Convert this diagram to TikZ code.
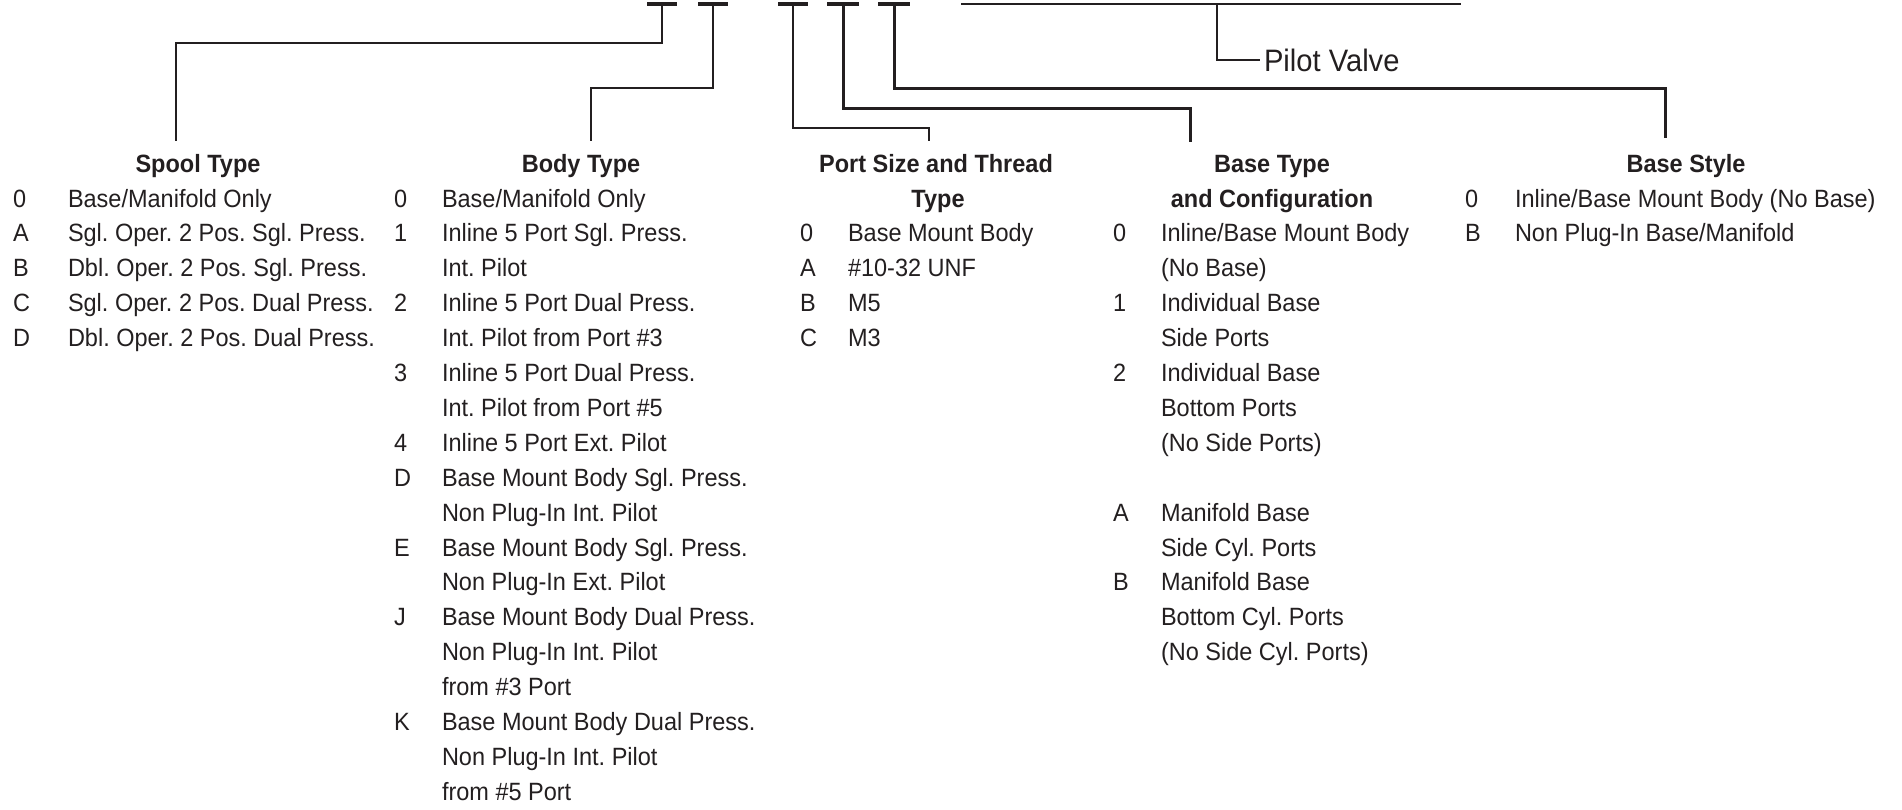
\documentclass[tikz,border=0pt]{standalone}
\usepackage{fontspec}
\setmainfont{Liberation Sans}[FakeStretch=0.94]
\definecolor{ink}{HTML}{231F20}
\frenchspacing
\begin{document}
\frenchspacing
\begin{tikzpicture}[x=1pt,y=-1pt,
  txt/.style={anchor=base west,inner sep=0pt,outer sep=0pt,text=ink,font=\fontsize{25}{30}\selectfont\frenchspacing},
  hdr/.style={anchor=base,inner sep=0pt,outer sep=0pt,text=ink,font=\fontsize{25}{30}\selectfont\bfseries\frenchspacing},
  bar/.style={line width=3.2pt,draw=ink},
  conn/.style={line width=2.4pt,draw=ink,line join=miter},
  connb/.style={line width=3pt,draw=ink,line join=miter},
]
\useasboundingbox (0,0) rectangle (1902,809);

% T-bar anchor points
\coordinate (t1) at (662,4);
\coordinate (t2) at (713,4);
\coordinate (t3) at (793,4);
\coordinate (t4) at (843,4);
\coordinate (t5) at (894,4);
\coordinate (tl1) at (961,4);
\coordinate (tl2) at (1461,4);
\coordinate (pl) at (1217,4);

\foreach \t in {t1,t2,t3}{\draw[bar] ([xshift=-15pt]\t) -- ([xshift=15pt]\t);}
\foreach \t in {t4,t5}{\draw[bar,line width=4pt] ([xshift=-16pt]\t) -- ([xshift=16pt]\t);}
\draw[conn] (tl1) -- (tl2);

% connector ends above the headers
\coordinate (sp) at (176,141);
\coordinate (bo) at (591,141);
\coordinate (po) at (929,141);
\coordinate (bt) at (1190,142);
\coordinate (bs) at (1665,138);

\draw[conn] (t1) -- ++(0,39) -| (sp);
\draw[conn] (t2) -- ++(0,84) -| (bo);
\draw[conn] (t3) -- ++(0,124) -| (po);
\draw[connb] (t4) -- ++(0,104) -| (bt);
\draw[connb] (t5) -- ++(0,84) -| (bs);

\node[txt,font=\fontsize{31}{36}\selectfont] (pv) at (1264,71) {Pilot Valve};
\draw[conn] (pl) |- ([xshift=-4pt]pv.west);

% Spool Type
\node[hdr] (hs) at (198,172) {Spool Type};
\node[txt] (s0c) at (13,207) {0};     \node[txt] (s0) at (68,207) {Base/Manifold Only};
\node[txt] (s1c) at (13,241.9) {A};   \node[txt] (s1) at (68,241.9) {Sgl. Oper. 2 Pos. Sgl. Press.};
\node[txt] (s2c) at (13,276.8) {B};   \node[txt] (s2) at (68,276.8) {Dbl. Oper. 2 Pos. Sgl. Press.};
\node[txt] (s3c) at (13,311.7) {C};   \node[txt] (s3) at (68,311.7) {Sgl. Oper. 2 Pos. Dual Press.};
\node[txt] (s4c) at (13,346.6) {D};   \node[txt] (s4) at (68,346.6) {Dbl. Oper. 2 Pos. Dual Press.};

% Body Type
\node[hdr] (hb) at (581,172) {Body Type};
\node[txt] (b0c) at (394,207) {0};    \node[txt] (b0) at (442,207) {Base/Manifold Only};
\node[txt] (b1c) at (394,241.9) {1};  \node[txt] (b1) at (442,241.9) {Inline 5 Port Sgl. Press.};
                                      \node[txt] (b2) at (442,276.8) {Int. Pilot};
\node[txt] (b3c) at (394,311.7) {2};  \node[txt] (b3) at (442,311.7) {Inline 5 Port Dual Press.};
                                      \node[txt] (b4) at (442,346.6) {Int. Pilot from Port \#3};
\node[txt] (b5c) at (394,381.5) {3};  \node[txt] (b5) at (442,381.5) {Inline 5 Port Dual Press.};
                                      \node[txt] (b6) at (442,416.4) {Int. Pilot from Port \#5};
\node[txt] (b7c) at (394,451.3) {4};  \node[txt] (b7) at (442,451.3) {Inline 5 Port Ext. Pilot};
\node[txt] (b8c) at (394,486.2) {D};  \node[txt] (b8) at (442,486.2) {Base Mount Body Sgl. Press.};
                                      \node[txt] (b9) at (442,521.1) {Non Plug-In Int. Pilot};
\node[txt] (b10c) at (394,556) {E};   \node[txt] (b10) at (442,556) {Base Mount Body Sgl. Press.};
                                      \node[txt] (b11) at (442,590.9) {Non Plug-In Ext. Pilot};
\node[txt] (b12c) at (394,625.8) {J}; \node[txt] (b12) at (442,625.8) {Base Mount Body Dual Press.};
                                      \node[txt] (b13) at (442,660.7) {Non Plug-In Int. Pilot};
                                      \node[txt] (b14) at (442,695.6) {from \#3 Port};
\node[txt] (b15c) at (394,730.5) {K}; \node[txt] (b15) at (442,730.5) {Base Mount Body Dual Press.};
                                      \node[txt] (b16) at (442,765.4) {Non Plug-In Int. Pilot};
                                      \node[txt] (b17) at (442,800.3) {from \#5 Port};

% Port Size and Thread Type
\node[hdr] (hp1) at (936,172) {Port Size and Thread};
\node[hdr] (hp2) at (938,207) {Type};
\node[txt] (p1c) at (800,241.9) {0};  \node[txt] (p1) at (848,241.9) {Base Mount Body};
\node[txt] (p2c) at (800,276.8) {A};  \node[txt] (p2) at (848,276.8) {\#10-32 UNF};
\node[txt] (p3c) at (800,311.7) {B};  \node[txt] (p3) at (848,311.7) {M5};
\node[txt] (p4c) at (800,346.6) {C};  \node[txt] (p4) at (848,346.6) {M3};

% Base Type and Configuration
\node[hdr] (ht1) at (1272,172) {Base Type};
\node[hdr] (ht2) at (1272,207) {and Configuration};
\node[txt] (c1c) at (1113,241.9) {0};  \node[txt] (c1) at (1161,241.9) {Inline/Base Mount Body};
                                       \node[txt] (c2) at (1161,276.8) {(No Base)};
\node[txt] (c3c) at (1113,311.7) {1};  \node[txt] (c3) at (1161,311.7) {Individual Base};
                                       \node[txt] (c4) at (1161,346.6) {Side Ports};
\node[txt] (c5c) at (1113,381.5) {2};  \node[txt] (c5) at (1161,381.5) {Individual Base};
                                       \node[txt] (c6) at (1161,416.4) {Bottom Ports};
                                       \node[txt] (c7) at (1161,451.3) {(No Side Ports)};
\node[txt] (c9c) at (1113,521.1) {A};  \node[txt] (c9) at (1161,521.1) {Manifold Base};
                                       \node[txt] (c10) at (1161,556) {Side Cyl. Ports};
\node[txt] (c11c) at (1113,590.9) {B}; \node[txt] (c11) at (1161,590.9) {Manifold Base};
                                       \node[txt] (c12) at (1161,625.8) {Bottom Cyl. Ports};
                                       \node[txt] (c13) at (1161,660.7) {(No Side Cyl. Ports)};

% Base Style
\node[hdr] (hy) at (1686,172) {Base Style};
\node[txt] (y0c) at (1465,207) {0};   \node[txt] (y0) at (1515,207) {Inline/Base Mount Body (No Base)};
\node[txt] (y1c) at (1465,241.9) {B}; \node[txt] (y1) at (1515,241.9) {Non Plug-In Base/Manifold};
\end{tikzpicture}
\end{document}
